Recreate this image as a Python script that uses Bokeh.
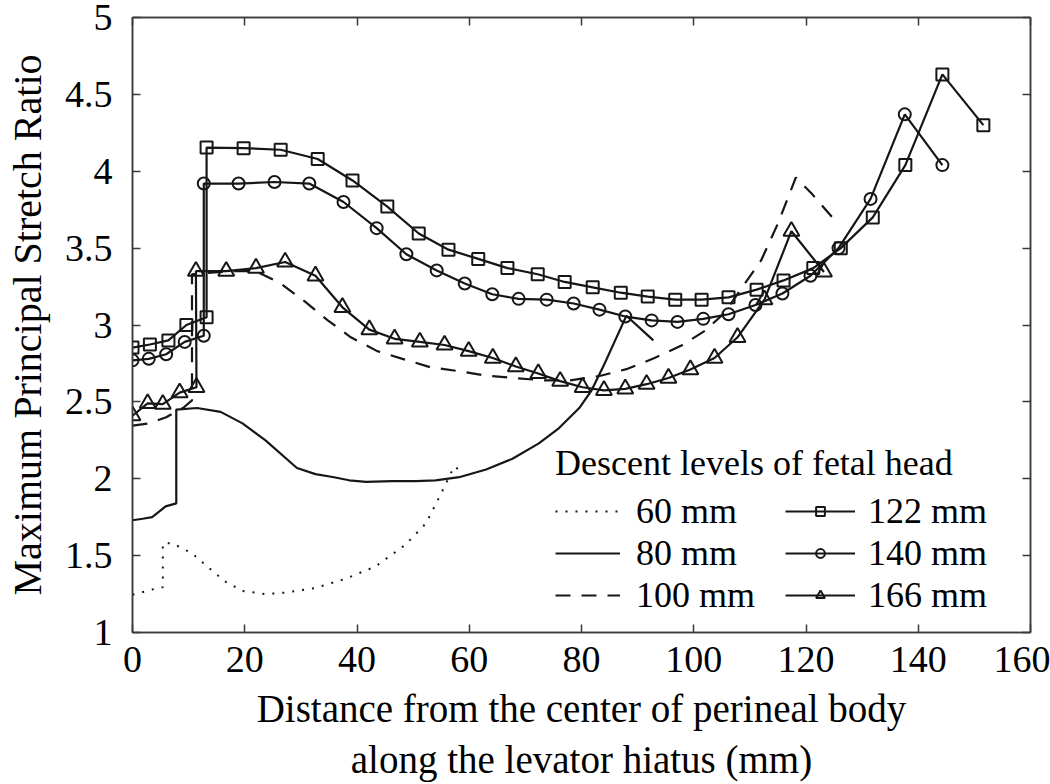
from bokeh.plotting import figure
from bokeh.models import (LinearAxis, Legend, LegendItem, FixedTicker, Range1d,
                          NumeralTickFormatter)
from bokeh.embed import file_html
from bokeh.resources import INLINE

FONT = "Liberation Serif"
INK = "#161616"
FRAME = "#3a3a3a"

# ---- data ----
x_ticks = [0, 20, 40, 60, 80, 100, 120, 140, 160]
y_ticks = [1, 1.5, 2, 2.5, 3, 3.5, 4, 4.5, 5]

x60 = [0, 3.5, 5.4, 5.4, 7.1, 10.6, 13.6, 16.6, 19.6, 23.7, 27.3, 32.6, 38.0,
       43.3, 48.6, 52.3, 55.0, 57.3, 58.8]
y60 = [1.245, 1.28, 1.295, 1.58, 1.58, 1.515, 1.42, 1.33, 1.27, 1.25, 1.26,
       1.29, 1.35, 1.43, 1.57, 1.71, 1.905, 2.08, 2.045]

x80 = [0, 1.8, 3.5, 5.9, 7.8, 7.8, 11.5, 15.7, 19.6, 23.7, 29.3, 32.6, 35.9,
       38.6, 41.6, 46.3, 50.5, 54.0, 58.2, 63.0, 67.7, 72.4, 76.0, 79.6, 81.8,
       84.0, 86.0, 88.0, 92.8]
y80 = [1.73, 1.74, 1.75, 1.82, 1.84, 2.45, 2.46, 2.435, 2.36, 2.25, 2.07, 2.03,
       2.01, 1.99, 1.98, 1.985, 1.985, 1.99, 2.01, 2.06, 2.13, 2.23, 2.33, 2.46,
       2.575, 2.74, 2.90, 3.06, 2.90]

x100 = [0, 3, 6, 9, 10.6, 10.6, 14, 18, 22, 26.4, 30.8, 34.8, 38.9, 43.6, 48.1,
        53.1, 58.1, 63.2, 68.2, 73.2, 78, 83.4, 88.2, 93, 98, 102.1, 105.5,
        108.9, 112, 115, 118.2, 121, 124.7]
y100 = [2.345, 2.36, 2.40, 2.46, 2.51, 3.33, 3.34, 3.35, 3.35, 3.27, 3.15, 3.03,
        2.92, 2.83, 2.78, 2.725, 2.70, 2.67, 2.655, 2.64, 2.64, 2.67, 2.715,
        2.785, 2.87, 2.965, 3.08, 3.26, 3.42, 3.66, 3.96, 3.855, 3.70]

x122 = [0, 3.1, 6.4, 9.6, 13.2, 13.2, 19.8, 26.4, 33, 39.2, 45.4, 51, 56.3,
        61.6, 66.8, 72.2, 77, 82, 87, 91.8, 96.7, 101.4, 106.2, 111.2, 116,
        121.3, 126.2, 131.9, 137.7, 144.3, 151.6]
y122 = [2.853, 2.873, 2.90, 3.0, 3.05, 4.154, 4.15, 4.14, 4.08, 3.94, 3.77,
        3.595, 3.49, 3.43, 3.37, 3.33, 3.28, 3.245, 3.21, 3.185, 3.165, 3.165,
        3.18, 3.23, 3.29, 3.37, 3.50, 3.70, 4.04, 4.63, 4.30]

x140 = [0, 2.9, 6.0, 9.3, 12.7, 12.7, 18.9, 25.3, 31.5, 37.6, 43.5, 48.8, 54.2,
        59.2, 64.1, 68.8, 73.8, 78.6, 83.2, 87.8, 92.5, 97.1, 101.7, 106.2, 111,
        115.8, 120.8, 125.8, 131.5, 137.6, 144.3]
y140 = [2.77, 2.78, 2.81, 2.89, 2.93, 3.92, 3.92, 3.93, 3.92, 3.80, 3.63, 3.46,
        3.355, 3.27, 3.20, 3.17, 3.165, 3.14, 3.10, 3.055, 3.03, 3.02, 3.04,
        3.07, 3.13, 3.205, 3.32, 3.50, 3.82, 4.37, 4.04]

x166 = [0, 2.7, 5.4, 8.4, 11.4, 11.3, 16.7, 22, 27.2, 32.6, 37.4, 42.2, 46.7,
        51.2, 55.6, 59.9, 64.2, 68.3, 72.3, 76.2, 80.2, 84, 87.8, 91.6, 95.5,
        99.4, 103.7, 107.8, 112.6, 117.4, 123.2]
y166 = [2.41, 2.49, 2.485, 2.56, 2.595, 3.35, 3.35, 3.37, 3.41, 3.32, 3.115,
        2.97, 2.91, 2.89, 2.87, 2.83, 2.785, 2.73, 2.685, 2.635, 2.595, 2.575,
        2.585, 2.615, 2.655, 2.71, 2.785, 2.92, 3.165, 3.61, 3.345]

legend_title = "Descent levels of fetal head"
labels = ["60 mm", "80 mm", "100 mm", "122 mm", "140 mm", "166 mm"]
x_label = ("Distance from the center of perineal body\n"
           "along the levator hiatus (mm)")
y_label = "Maximum Principal Stretch Ratio"

# ---- figure ----
p = figure(width=1050, height=784, x_range=Range1d(0, 160), y_range=Range1d(1, 5),
           output_backend="svg", toolbar_location=None,
           min_border_left=132, min_border_right=20, min_border_top=17,
           min_border_bottom=152)
p.grid.visible = False
p.outline_line_color = FRAME
p.outline_line_width = 1.5
p.background_fill_color = "white"
p.border_fill_color = "white"


def style_axis(ax, ticks, show_labels=True):
    ax.ticker = FixedTicker(ticks=ticks)
    ax.major_tick_in = 8
    ax.major_tick_out = 0
    ax.minor_tick_in = 0
    ax.minor_tick_out = 0
    ax.axis_line_color = FRAME
    ax.axis_line_width = 1.5
    ax.major_tick_line_color = FRAME
    ax.major_tick_line_width = 1.5
    ax.major_label_text_font = FONT
    if show_labels:
        ax.major_label_text_color = "black"
        ax.major_label_text_font_size = "38px"
    else:
        ax.major_label_text_color = None
        ax.major_label_text_font_size = "1px"
        ax.major_label_standoff = 0


style_axis(p.xaxis[0], x_ticks)
style_axis(p.yaxis[0], y_ticks)
p.yaxis[0].formatter = NumeralTickFormatter(format="0.[0]")
p.xaxis[0].major_label_standoff = 14
p.yaxis[0].major_label_standoff = 20

p.xaxis[0].axis_label = x_label
p.yaxis[0].axis_label = y_label
for ax, fs in ((p.xaxis[0], "39px"), (p.yaxis[0], "40px")):
    ax.axis_label_text_font = FONT
    ax.axis_label_text_font_size = fs
    ax.axis_label_text_font_style = "normal"
    ax.axis_label_text_color = "black"
p.xaxis[0].axis_label_standoff = 12
p.xaxis[0].axis_label_text_line_height = 1.2
p.yaxis[0].axis_label_standoff = 12

top_ax = LinearAxis()
style_axis(top_ax, x_ticks, show_labels=False)
p.add_layout(top_ax, "above")
right_ax = LinearAxis()
style_axis(right_ax, y_ticks, show_labels=False)
p.add_layout(right_ax, "right")

# ---- series ----
LW = 2.2
r60 = p.line(x60, y60, line_color=INK, line_width=2, line_dash="2 8")
r80 = p.line(x80, y80, line_color=INK, line_width=LW)
r100 = p.line(x100, y100, line_color=INK, line_width=LW, line_dash="15 11")

r122l = p.line(x122, y122, line_color=INK, line_width=LW)
r122m = p.scatter(x122, y122, marker="square", size=12, line_color=INK,
                  line_width=2, fill_color=None)
r140l = p.line(x140, y140, line_color=INK, line_width=LW)
r140m = p.scatter(x140, y140, marker="circle", size=12, line_color=INK,
                  line_width=2, fill_color=None)
r166l = p.line(x166, y166, line_color=INK, line_width=LW)
r166m = p.scatter(x166, y166, marker="triangle", size=16, line_color=INK,
                  line_width=2, fill_color=None)


def make_legend(items, loc, gw, standoff, title=None):
    leg = Legend(items=items, location=loc, padding=0, margin=0, spacing=0,
                 glyph_width=gw, glyph_height=22, label_height=22,
                 label_standoff=standoff, border_line_color=None,
                 background_fill_alpha=0, label_text_font=FONT,
                 label_text_font_size="36px", label_text_color="black")
    if title:
        leg.title = title
        leg.title_text_font = FONT
        leg.title_text_font_size = "36px"
        leg.title_text_font_style = "normal"
        leg.title_text_color = "black"
        leg.title_standoff = 6
    return leg


leg1 = make_legend([
    LegendItem(label=labels[0], renderers=[r60]),
    LegendItem(label=labels[1], renderers=[r80]),
    LegendItem(label=labels[2], renderers=[r100]),
], (423, 16), 65, 16, legend_title)
leg2 = make_legend([
    LegendItem(label=labels[3], renderers=[r122l, r122m]),
    LegendItem(label=labels[4], renderers=[r140l, r140m]),
    LegendItem(label=labels[5], renderers=[r166l, r166m]),
], (653, 16), 70, 13)
p.add_layout(leg1)
p.add_layout(leg2)

open("out.html", "w").write(file_html(p, INLINE, title="Stretch ratio"))
